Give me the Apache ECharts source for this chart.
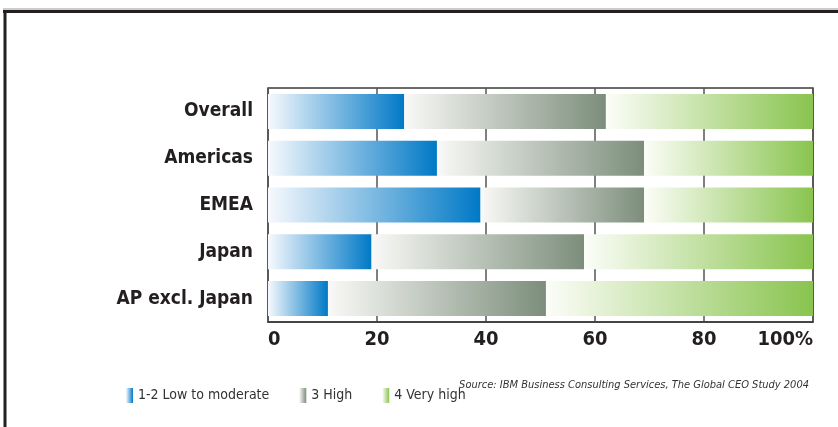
<!DOCTYPE html>
<html><head><meta charset="utf-8">
<script src="https://cdn.jsdelivr.net/npm/echarts@6/dist/echarts.min.js"></script>
<style>html,body{margin:0;padding:0;background:#fff}#c{width:838px;height:427px}</style>
</head><body><div id="c"></div>
<script>
const categories = ['Overall', 'Americas', 'EMEA', 'Japan', 'AP excl. Japan'];
const seriesNames = ['1-2 Low to moderate', '3 High', '4 Very high'];
const lowModerate = [25, 31, 39, 19, 11];
const high = [37, 38, 30, 39, 40];
const veryHigh = [38, 31, 31, 42, 49];
const xTicks = [0, 20, 40, 60, 80, 100];
const sourceText = 'Source: IBM Business Consulting Services, The Global CEO Study 2004';

const FONT = '"Liberation Sans Narrow", "DejaVu Sans Condensed", "Liberation Sans", sans-serif';
function grad(a, b) {
  return new echarts.graphic.LinearGradient(0, 0, 1, 0, [{offset: 0, color: a}, {offset: 1, color: b}]);
}
const colors = [grad('#f7f9fd', '#0079c6'), grad('#f9f9f7', '#7c8e7b'), grad('#fcfdf8', '#89c44f')];
const values = [lowModerate, high, veryHigh];

const chart = echarts.init(document.getElementById('c'), null, {renderer: 'canvas'});
chart.setOption({
  animation: false,
  textStyle: {fontFamily: FONT},
  grid: {left: 268, right: 25, top: 88, bottom: 105, show: true, borderColor: '#3a3a3a', borderWidth: 1.5},
  title: {
    text: sourceText, right: 24, top: 375,
    textStyle: {fontFamily: FONT, fontSize: 11, fontStyle: 'italic', fontWeight: 'normal', color: '#333'}
  },
  legend: {
    left: 121, top: 383, icon: 'rect', itemWidth: 7, itemHeight: 15, itemGap: 30,
    textStyle: {fontFamily: FONT, fontSize: 14, color: '#333'},
    data: seriesNames
  },
  graphic: [
    {type: 'line', shape: {x1: 3, y1: 9, x2: 838, y2: 9}, style: {stroke: '#999', lineWidth: 1}},
    {type: 'line', shape: {x1: 3, y1: 11.5, x2: 838, y2: 11.5}, style: {stroke: '#231f20', lineWidth: 3}},
    {type: 'line', shape: {x1: 5, y1: 10, x2: 5, y2: 427}, style: {stroke: '#231f20', lineWidth: 3}}
  ],
  xAxis: {
    type: 'value', min: xTicks[0], max: xTicks[xTicks.length - 1], interval: 20,
    axisLine: {show: true, lineStyle: {color: '#3a3a3a', width: 1.5}},
    axisTick: {show: false},
    splitLine: {show: true, lineStyle: {color: '#555', width: 1.5}},
    axisLabel: {
      fontFamily: FONT, fontSize: 20, fontWeight: 'bold', color: '#231f20', margin: 8,
      alignMinLabel: 'left', alignMaxLabel: 'right',
      formatter: v => v === 100 ? '100%' : String(v)
    }
  },
  yAxis: {
    type: 'category', data: categories, inverse: true,
    axisLine: {show: false},
    axisTick: {show: false},
    axisLabel: {fontFamily: FONT, fontSize: 19, fontWeight: 'bold', color: '#231f20', margin: 15}
  },
  series: seriesNames.map((n, i) => ({
    name: n, type: 'bar', stack: 'all', barWidth: 35,
    itemStyle: {color: colors[i]},
    data: values[i]
  }))
});
</script></body></html>
